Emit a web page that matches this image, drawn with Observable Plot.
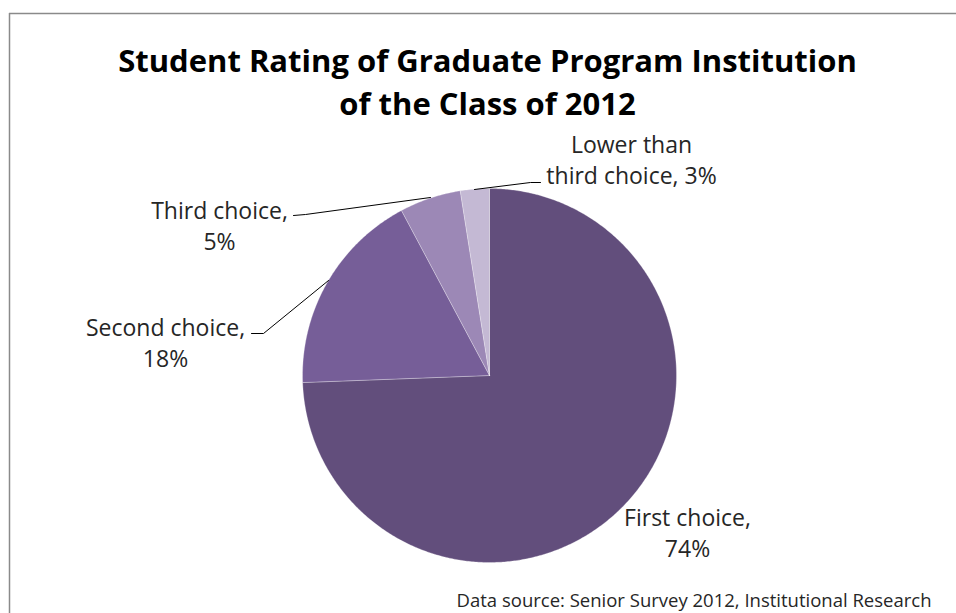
<!DOCTYPE html>
<html>
<head>
<meta charset="utf-8">
<script src="https://cdn.jsdelivr.net/npm/d3@7"></script>
<script src="https://cdn.jsdelivr.net/npm/@observablehq/plot@0.6"></script>
<style>
  html, body { margin: 0; padding: 0; background: #fff; }
</style>
</head>
<body>
<div id="chart"></div>
<script>
// ---- data ----
const categories = ["First choice", "Second choice", "Third choice", "Lower than third choice"];
const shares = [74.4, 17.8, 5.3, 2.5];
const labelTexts = ["First choice,\n74%", "Second choice,\n18%", "Third choice,\n5%", "Lower than\nthird choice, 3%"];
const sliceColors = ["#624E7C", "#765E98", "#9C88B6", "#C4B9D4"];
const titleText = "Student Rating of Graduate Program Institution\nof the Class of 2012";
const sourceText = "Data source: Senior Survey 2012, Institutional Research";

// ---- layout (pixels) ----
const W = 956, H = 613;
const cx = 489, cy = 375, R = 187;
const labelPos = [[687, 531], [165, 341], [219, 224], [631, 158]];
const leaders = [
  null,
  [[251, 333], [263, 333], [328, 280]],
  [[293, 215], [305, 214], [430, 197]],
  [[474, 189], [530, 182], [540, 182]]
];

// ---- pie geometry from data ----
const pie = d3.pie().sort(null).value(d => d.share)(categories.map((c, i) => ({name: c, share: shares[i], i})));
const slicePts = [];
pie.forEach(p => {
  const a0 = p.startAngle, a1 = p.endAngle;
  const n = Math.max(2, Math.ceil((a1 - a0) / (Math.PI / 360)));
  slicePts.push({name: p.data.name, i: p.data.i, x: cx, y: cy});
  for (let k = 0; k <= n; k++) {
    const a = a0 + (a1 - a0) * k / n;
    slicePts.push({name: p.data.name, i: p.data.i, x: cx + R * Math.sin(a), y: cy - R * Math.cos(a)});
  }
  slicePts.push({name: p.data.name, i: p.data.i, x: cx, y: cy});
});

const leaderPts = [];
leaders.forEach((l, i) => { if (l) l.forEach(([x, y]) => leaderPts.push({name: categories[i], x, y})); });

const labels = categories.map((c, i) => ({name: c, text: labelTexts[i], x: labelPos[i][0], y: labelPos[i][1]}));

const chart = Plot.plot({
  width: W, height: H,
  margin: 0,
  x: {type: "identity", axis: null},
  y: {type: "identity", axis: null},
  color: {domain: categories, range: sliceColors},
  style: {fontFamily: "'Open Sans', sans-serif", background: "#fff"},
  marks: [
    // frame (only left and top edges visible)
    Plot.ruleX([9], {y1: 13, y2: H, stroke: "#8a8a8a", strokeWidth: 1.5}),
    Plot.ruleY([13], {x1: 9, x2: W, stroke: "#8a8a8a", strokeWidth: 1.5}),
    // slices
    Plot.line(slicePts, {x: "x", y: "y", z: "name", fill: "name", stroke: "#ffffff", strokeOpacity: 0.35, strokeWidth: 0.8, curve: "linear-closed"}),
    // leader lines
    Plot.line(leaderPts, {x: "x", y: "y", z: "name", stroke: "#000", strokeWidth: 1}),
    // labels
    Plot.text(labels, {x: "x", y: "y", text: "text", fontSize: 23, lineHeight: 1.348, lineAnchor: "middle", textAnchor: "middle", fill: "#262626"}),
    // title
    Plot.text([titleText], {x: () => 487, y: () => 79.5, fontSize: 31, fontWeight: "bold", lineHeight: 1.38, lineAnchor: "middle", textAnchor: "middle", fill: "#000"}),
    // source
    Plot.text([sourceText], {x: () => 931, y: () => 601, fontSize: 18.5, textAnchor: "end", lineAnchor: "middle", fill: "#262626"})
  ]
});
document.getElementById("chart").appendChild(chart);
</script>
</body>
</html>
